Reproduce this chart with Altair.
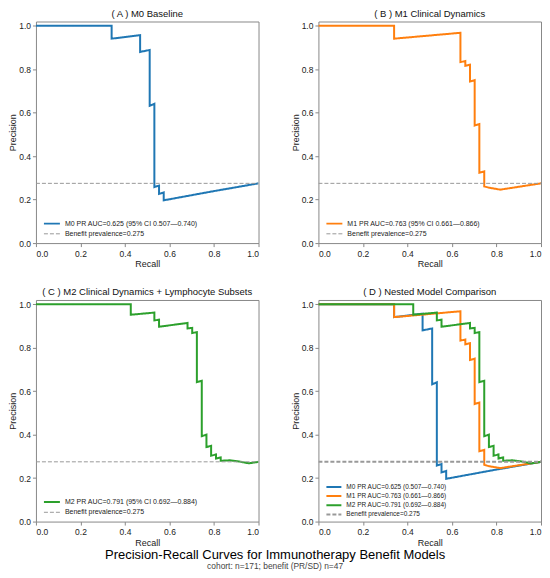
import altair as alt
import pandas as pd

FONT = "Liberation Sans"

# ---- curve points (recall, precision) ----
RECALL_M0 = [0.0, 0.340, 0.340, 0.468, 0.468, 0.511, 0.511, 0.532, 0.532, 0.553, 0.553,
             0.574, 0.574, 0.596, 0.787, 1.0]
PREC_M0 = [1.0, 1.0, 0.941, 0.957, 0.880, 0.889, 0.632, 0.641, 0.258, 0.265, 0.226,
           0.233, 0.197, 0.201, 0.237, 0.275]

RECALL_M1 = [0.0, 0.340, 0.340, 0.638, 0.638, 0.660, 0.660, 0.681, 0.681, 0.702, 0.702,
             0.723, 0.723, 0.745, 0.745, 0.766, 0.817, 1.0]
PREC_M1 = [1.0, 1.0, 0.941, 0.968, 0.833, 0.838, 0.816, 0.821, 0.744, 0.750, 0.541,
           0.548, 0.324, 0.330, 0.261, 0.255, 0.246, 0.275]

RECALL_M2 = [0.0, 0.426, 0.426, 0.532, 0.532, 0.553, 0.553, 0.681, 0.681, 0.702, 0.702,
             0.723, 0.723, 0.745, 0.745, 0.766, 0.766, 0.787, 0.787, 0.809, 0.809,
             0.830, 0.830, 0.872, 0.894, 0.915, 0.936, 0.957, 1.0]
PREC_M2 = [1.0, 1.0, 0.952, 0.962, 0.926, 0.929, 0.897, 0.914, 0.889, 0.892, 0.868,
           0.872, 0.642, 0.648, 0.393, 0.400, 0.343, 0.349, 0.303, 0.309, 0.290,
           0.295, 0.280, 0.282, 0.279, 0.276, 0.272, 0.268, 0.275]

PREVALENCE = 0.275
PREV_LABEL = "Benefit prevalence=0.275"

LABELS_SINGLE = {
    "M0": "M0 PR AUC=0.625 (95% CI 0.507\u20140.740)",
    "M1": "M1 PR AUC=0.763 (95% CI 0.661\u20140.866)",
    "M2": "M2 PR AUC=0.791 (95% CI 0.692\u20140.884)",
}
LABELS_NESTED = {
    "M0": "M0 PR AUC=0.625 (0.507\u20140.740)",
    "M1": "M1 PR AUC=0.763 (0.661\u20140.866)",
    "M2": "M2 PR AUC=0.791 (0.692\u20140.884)",
}
COLORS = {"M0": "#1f77b4", "M1": "#ff7f0e", "M2": "#2ca02c"}
PANEL_TITLES = [
    "( A ) M0 Baseline",
    "( B ) M1 Clinical Dynamics",
    "( C ) M2 Clinical Dynamics + Lymphocyte Subsets",
    "( D ) Nested Model Comparison",
]
TICKS = [0.0, 0.2, 0.4, 0.6, 0.8, 1.0]
CURVES = {"M0": (RECALL_M0, PREC_M0), "M1": (RECALL_M1, PREC_M1), "M2": (RECALL_M2, PREC_M2)}

MAIN_TITLE = "Precision-Recall Curves for Immunotherapy Benefit Models"
SUBTITLE = "cohort: n=171; benefit (PR/SD) n=47"


def frame(models, labels):
    rows = []
    for m in models:
        r, p = CURVES[m]
        for i, (a, b) in enumerate(zip(r, p)):
            rows.append({"recall": a, "precision": b, "series": labels[m], "idx": i})
    for i, a in enumerate([0.0, 1.0]):
        rows.append({"recall": a, "precision": PREVALENCE, "series": PREV_LABEL, "idx": i})
    return pd.DataFrame(rows)


def panel(models, labels, title, legend_y, font_size, sym, clip_h, row_pad):
    df = frame(models, labels)
    domain = [labels[m] for m in models] + [PREV_LABEL]
    colors = [COLORS[m] for m in models] + ["#999999"]
    dashes = [[1, 0]] * len(models) + [[4, 2]]
    widths = [2] * len(models) + [1]
    leg = alt.Legend(
        title=None, orient="none", legendX=7, legendY=legend_y,
        labelFontSize=font_size, labelFont=FONT, labelColor="#222", labelLimit=400,
        symbolType="stroke", symbolSize=sym, clipHeight=clip_h, rowPadding=row_pad,
        padding=0, labelOffset=4, symbolOffset=0,
    )
    return (
        alt.Chart(df)
        .mark_line(clip=True)
        .encode(
            x=alt.X("recall:Q", title="Recall",
                    scale=alt.Scale(domain=[0, 1], nice=False, zero=False),
                    axis=alt.Axis(values=TICKS, format=".1f")),
            y=alt.Y("precision:Q", title="Precision",
                    scale=alt.Scale(domain=[0, 1.02], nice=False),
                    axis=alt.Axis(values=TICKS, format=".1f")),
            color=alt.Color("series:N", scale=alt.Scale(domain=domain, range=colors), legend=leg),
            strokeDash=alt.StrokeDash("series:N", scale=alt.Scale(domain=domain, range=dashes), legend=leg),
            strokeWidth=alt.StrokeWidth("series:N", scale=alt.Scale(domain=domain, range=widths), legend=leg),
            order=alt.Order("idx:Q"),
        )
        .properties(width=223, height=222, title=title)
    )


pA = panel(["M0"], LABELS_SINGLE, PANEL_TITLES[0], 198, 7, 256, 9, 1.2)
pB = panel(["M1"], LABELS_SINGLE, PANEL_TITLES[1], 198, 7, 256, 9, 1.2)
pC = panel(["M2"], LABELS_SINGLE, PANEL_TITLES[2], 198, 7, 256, 9, 1.2)
pD = panel(["M0", "M1", "M2"], LABELS_NESTED, PANEL_TITLES[3], 183, 6.5, 225, 8.5, 0.2)

ind = dict(color="independent", strokeDash="independent", strokeWidth="independent")

chart = (
    alt.concat(
        pA, pB, pC, pD, columns=2, spacing={"row": 57, "column": 60}, bounds="flush",
        title=alt.TitleParams(
            text=MAIN_TITLE, subtitle=SUBTITLE, orient="bottom", anchor="middle",
            fontSize=13, fontWeight="normal", font=FONT, color="#000000",
            subtitleFontSize=8.4, subtitleFont=FONT, subtitleColor="#444444",
            subtitlePadding=0, offset=2,
        ),
        padding={"left": 0, "top": 0, "right": 0, "bottom": 0},
    )
    .resolve_scale(**ind)
    .resolve_legend(**ind)
    .configure(font=FONT)
    .configure_view(stroke="#888888", strokeWidth=1)
    .configure_axis(
        domain=False, grid=False, tickColor="#888888", tickSize=3.5, tickWidth=1,
        labelFontSize=8.5, labelColor="#222222", labelFont=FONT,
        titleFontSize=9, titleFontWeight="normal", titleColor="#222222", titleFont=FONT,
    )
    .configure_axisY(labelPadding=2, titlePadding=1)
    .configure_axisX(labelPadding=2.5, titlePadding=2)
    .configure_title(fontSize=9.5, fontWeight="normal", font=FONT, color="#111111", offset=3)
)

chart.save("out.html", embed_options={"renderer": "svg", "actions": False})
